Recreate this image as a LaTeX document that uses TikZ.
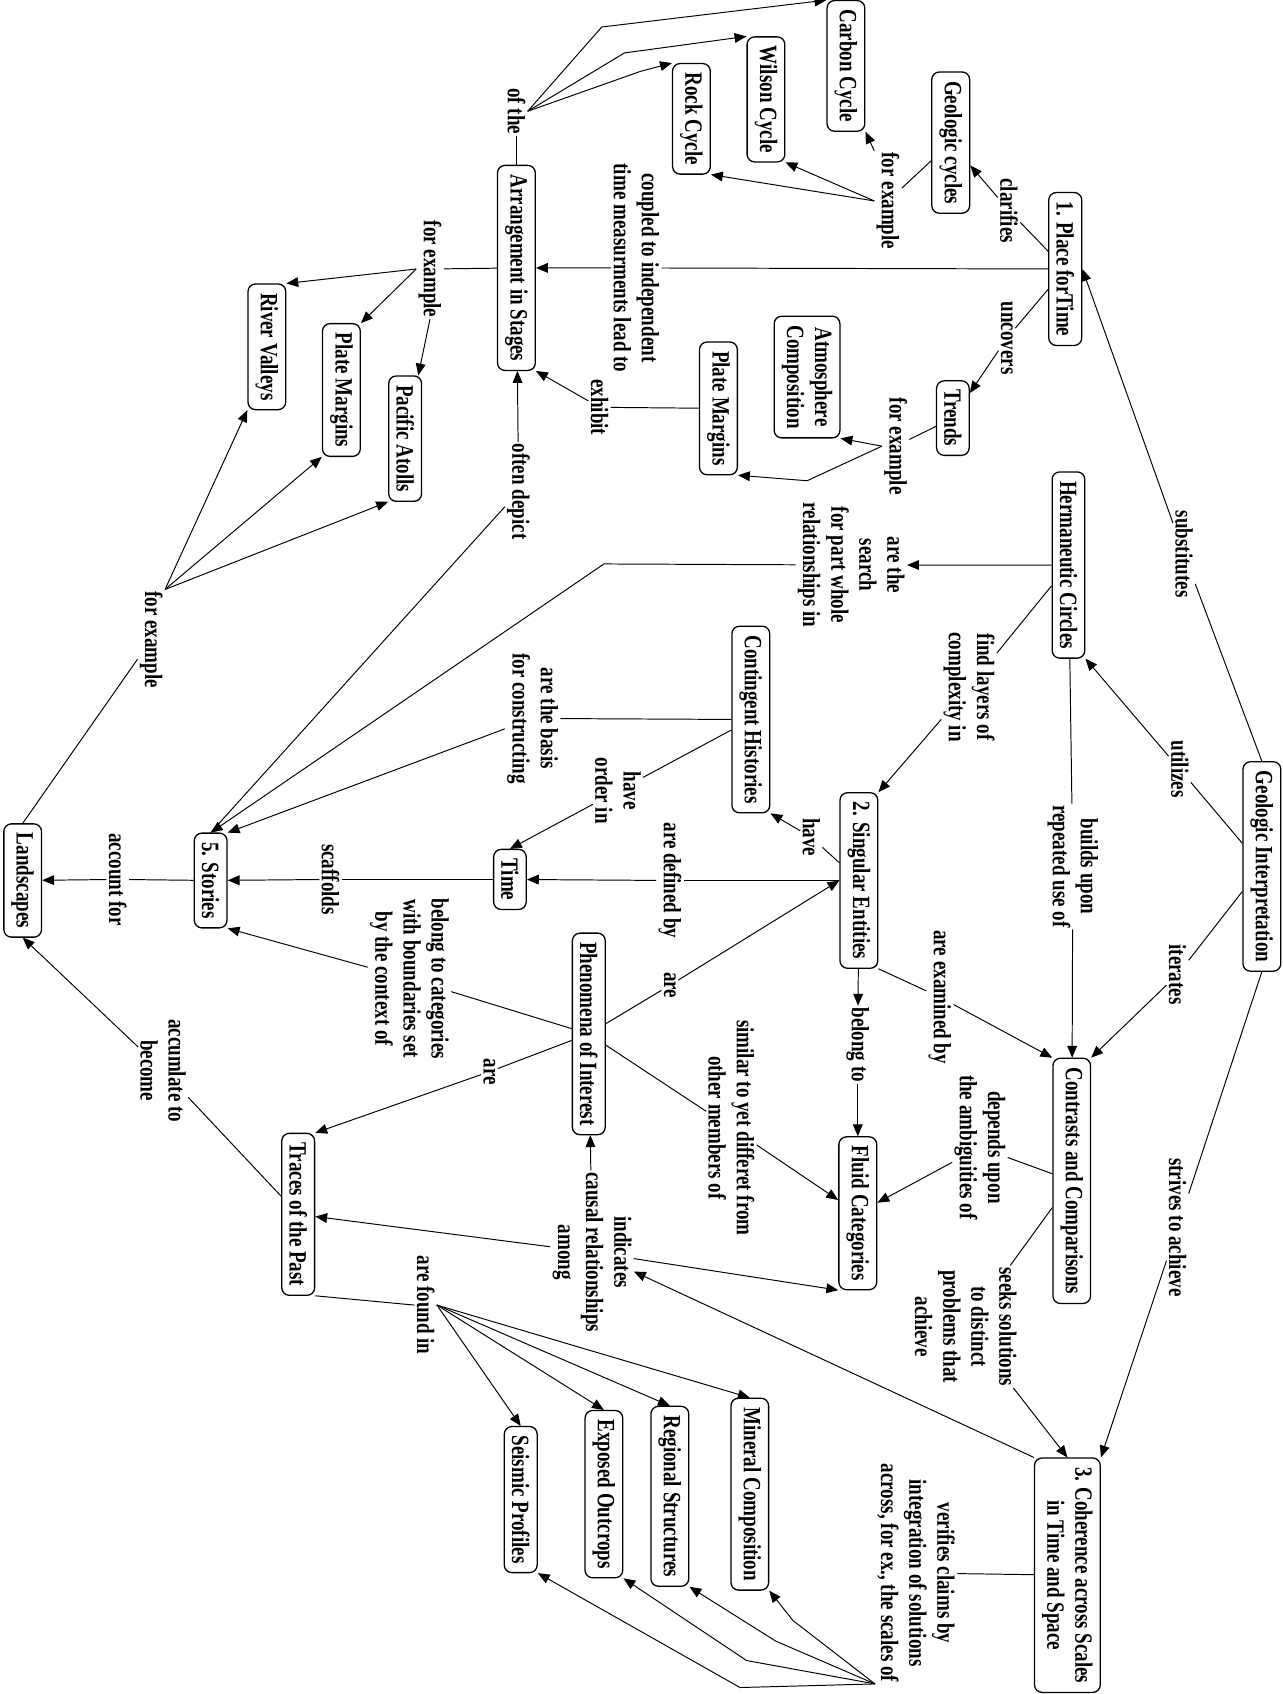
\documentclass[tikz,border=0pt]{standalone}
\usepackage{fontspec}
\setmainfont{Liberation Serif}
\usepackage{tikz}
\usetikzlibrary{arrows.meta}
\tikzset{
  concept/.style ={draw, rounded corners=7pt, line width=1.2pt, rotate=-90, xscale=0.765,
                   inner xsep=11pt, inner ysep=7pt, align=center,
                   font=\fontsize{23}{26}\selectfont\bfseries},
  linkph/.style  ={rotate=-90, xscale=0.765, inner sep=2pt, align=center,
                   font=\fontsize{23}{26}\selectfont\bfseries},
  ln/.style      ={line width=0.9pt},
  arr/.style     ={-{Triangle[length=11pt,width=9pt]}, line width=0.9pt},
}
\begin{document}
\begin{tikzpicture}[x=1pt,y=-1pt]
    \useasboundingbox (0,0) rectangle (1187,1568);
    % concepts
    \node[concept] (geoint) at (1168,802) {Geologic Interpretation};
    \node[concept] (place) at (986,249) {1. Place forTime};
    \node[concept] (cycles) at (880,132) {Geologic cycles};
    \node[concept] (carbon) at (783,61) {Carbon Cycle};
    \node[concept] (wilson) at (709,92) {Wilson Cycle};
    \node[concept] (rock) at (640,110) {Rock Cycle};
    \node[concept] (trends) at (882,387) {Trends};
    \node[concept] (atmos) at (747,349) {Atmosphere\\Composition};
    \node[concept] (margtop) at (665,378) {Plate Margins};
    \node[concept] (stages) at (478,248) {Arrangement in Stages};
    \node[concept] (river) at (247,321) {River Valleys};
    \node[concept] (margleft) at (316,361) {Plate Margins};
    \node[concept] (atolls) at (375,406) {Pacific Atolls};
    \node[concept] (herm) at (989,523) {Hermaneutic Circles};
    \node[concept] (contin) at (695,666) {Contingent Histories};
    \node[concept] (singular) at (795,815) {2. Singular Entities};
    \node[concept] (time) at (472,814) {Time};
    \node[concept] (stories) at (195,815) {5. Stories};
    \node[concept] (land) at (21,815) {Landscapes};
    \node[concept] (phen) at (545,957) {Phenomena of Interest};
    \node[concept] (fluid) at (794,1123) {Fluid Categories};
    \node[concept] (contrast) at (992,1093) {Contrasts and Comparisons};
    \node[concept] (traces) at (276,1124) {Traces of the Past};
    \node[concept] (coher) at (988,1458) {3. Coherence across Scales\\in Time and Space};
    \node[concept] (mineral) at (694,1383) {Mineral Composition};
    \node[concept] (regional) at (620,1385) {Regional Structures};
    \node[concept] (exposed) at (559,1383) {Exposed Outcrops};
    \node[concept] (seismic) at (482,1388) {Seismic Profiles};
    % linking phrases
    \node[linkph] (lclar) at (934,195) {clarifies};
    \node[linkph] (lfexcyc) at (822,186) {for example};
    \node[linkph] (lunc) at (932,313) {uncovers};
    \node[linkph] (lfextr) at (829,413) {for example};
    \node[linkph] (lcoupled) at (589,248) {coupled to independent\\time measurments lead to};
    \node[linkph] (lexhibit) at (555,377) {exhibit};
    \node[linkph] (lofthe) at (478,103) {of the};
    \node[linkph] (lfexst) at (398,249) {for example};
    \node[linkph] (ldepict) at (480,455) {often depict};
    \node[linkph] (lsearch) at (788,523) {are the\\search\\for part whole\\relationships in};
    \node[linkph] (lfind) at (897,636) {find layers of\\complexity in};
    \node[linkph] (lutil) at (1092,712) {utilizes};
    \node[linkph] (lsubst) at (1096,513) {substitutes};
    \node[linkph] (lbuilds) at (993,802) {builds upon\\repeated use of};
    \node[linkph] (liter) at (1090,902) {iterates};
    \node[linkph] (lstrives) at (1090,1136) {strives to achieve};
    \node[linkph] (lseeks) at (894,1228) {seeks solutions\\to distinct\\problems that\\achieve};
    \node[linkph] (ldepends) at (907,1062) {depends upon\\the ambiguities of};
    \node[linkph] (lexam) at (870,923) {are examined by};
    \node[linkph] (lbelong) at (794,967) {belong to};
    \node[linkph] (lhave) at (751,775) {have};
    \node[linkph] (ldefined) at (620,815) {are defined by};
    \node[linkph] (lareent) at (620,912) {are};
    \node[linkph] (lscaff) at (306,814) {scaffolds};
    \node[linkph] (lorder) at (572,732) {have\\order in};
    \node[linkph] (lbasis) at (493,665) {are the basis\\for constructing};
    \node[linkph] (lfexland) at (140,592) {for example};
    \node[linkph] (laccount) at (109,814) {account for};
    \node[linkph] (lbcat) at (379,906) {belong to categories\\with boundaries set\\by the context of};
    \node[linkph] (laretr) at (453,992) {are};
    \node[linkph] (laccum) at (151,991) {accumlate to\\become};
    \node[linkph] (lindic) at (548,1159) {indicates\\causal relationships\\among};
    \node[linkph] (lsimilar) at (677,1044) {similar to yet differet from\\other members of};
    \node[linkph] (lfound) at (394,1208) {are found in};
    \node[linkph] (lverif) at (848,1456) {verifies claims by\\integration of solutions\\across, for ex., the scales of};
    % bend points
    \coordinate (bndmarg) at (747,445);
    \coordinate (bndcarbon) at (557,25);
    \coordinate (bndwilson) at (578,49);
    \coordinate (bndrock) at (593,66);
    \coordinate (bndsearch) at (559,522);
    \coordinate (bndmin) at (734,1500);
    \coordinate (bndreg) at (718,1519);
    \coordinate (bndexp) at (691,1537);
    \coordinate (bndseis) at (685,1562);

    \draw[ln] (place) -- (lclar);
    \draw[arr] (lclar) -- (cycles);
    \draw[ln] (cycles) -- (lfexcyc);
    \draw[arr] (lfexcyc.south west) -- (carbon.north east);
    \draw[arr] (lfexcyc.south) -- (wilson.north east);
    \draw[arr] (lfexcyc.south) -- (rock.north east);
    \draw[ln] (place) -- (lunc);
    \draw[arr] (lunc) -- (trends);
    \draw[ln] (trends) -- (lfextr);
    \draw[arr] (lfextr.south) -- (atmos.north east);
    \draw[arr] (lfextr.south) -- (bndmarg) -- (margtop.north east);
    \draw[ln] (place) -- (lcoupled);
    \draw[arr] (lcoupled) -- (stages);
    \draw[ln] (margtop) -- (lexhibit);
    \draw[arr] (lexhibit) -- (stages.north east);
    \draw[ln] (stages) -- (lofthe);
    \draw[arr] (lofthe.north) -- (bndcarbon) -- (carbon.south west);
    \draw[arr] (lofthe.north) -- (bndwilson) -- (wilson.south west);
    \draw[arr] (lofthe.north) -- (bndrock) -- (rock.south west);
    \draw[ln] (stages) -- (lfexst);
    \draw[arr] (lfexst.south) -- (river.north west);
    \draw[arr] (lfexst.south) -- (margleft.north west);
    \draw[arr] (lfexst.east) -- (atolls);
    \draw[ln] (stories.west) -- (ldepict);
    \draw[arr] (ldepict) -- (stages);
    \draw[arr] (herm) -- (lsearch);
    \draw[arr] (lsearch) -- (bndsearch) -- (stories.west);
    \draw[ln] (herm) -- (lfind);
    \draw[arr] (lfind) -- (singular.north west);
    \draw[ln] (geoint) -- (lutil);
    \draw[arr] (lutil) -- (herm.north east);
    \draw[ln] (geoint.west) -- (lsubst);
    \draw[arr] (lsubst) -- (place.north);
    \draw[ln] (herm) -- (lbuilds);
    \draw[arr] (lbuilds) -- (contrast);
    \draw[ln] (geoint) -- (liter);
    \draw[arr] (liter) -- (contrast.north west);
    \draw[ln] (geoint.east) -- (lstrives);
    \draw[arr] (lstrives) -- (coher.north west);
    \draw[ln] (contrast) -- (lseeks);
    \draw[arr] (lseeks) -- (coher.west);
    \draw[ln] (contrast) -- (ldepends);
    \draw[arr] (ldepends) -- (fluid);
    \draw[ln] (singular.north east) -- (lexam);
    \draw[arr] (lexam) -- (contrast.south west);
    \draw[arr] (singular) -- (lbelong);
    \draw[arr] (lbelong) -- (fluid);
    \draw[ln] (singular) -- (lhave);
    \draw[arr] (lhave) -- (contin.north east);
    \draw[ln] (singular) -- (ldefined);
    \draw[arr] (ldefined) -- (time);
    \draw[ln] (phen) -- (lareent);
    \draw[arr] (lareent) -- (singular.south);
    \draw[ln] (time) -- (lscaff);
    \draw[arr] (lscaff) -- (stories);
    \draw[ln] (contin) -- (lorder);
    \draw[arr] (lorder) -- (time.west);
    \draw[ln] (contin) -- (lbasis);
    \draw[arr] (lbasis) -- (stories.north west);
    \draw[ln] (land.west) -- (lfexland);
    \draw[arr] (lfexland.north west) -- (river.south east);
    \draw[arr] (lfexland.north west) -- (margleft.south east);
    \draw[arr] (lfexland.north west) -- (atolls.south east);
    \draw[ln] (stories) -- (laccount);
    \draw[arr] (laccount) -- (land);
    \draw[ln] (phen) -- (lbcat);
    \draw[arr] (lbcat) -- (stories.north east);
    \draw[ln] (phen) -- (laretr);
    \draw[arr] (laretr) -- (traces.north west);
    \draw[ln] (traces) -- (laccum);
    \draw[arr] (laccum) -- (land.east);
    \draw[arr] (coher.south west) -- (lindic);
    \draw[arr] (lindic) -- (phen);
    \draw[arr] (lindic) -- (traces);
    \draw[arr] (lindic) -- (fluid.south east);
    \draw[ln] (phen) -- (lsimilar);
    \draw[arr] (lsimilar) -- (fluid);
    \draw[ln] (traces.north east) -- (lfound.south);
    \draw[arr] (lfound.north) -- (seismic.west);
    \draw[arr] (lfound.north) -- (exposed.west);
    \draw[arr] (lfound.north) -- (regional.west);
    \draw[arr] (lfound.north) -- (mineral.west);
    \draw[ln] (coher) -- (lverif);
    \draw[arr] (lverif.south east) -- (bndmin) -- (mineral.north east);
    \draw[arr] (lverif.south east) -- (bndreg) -- (regional.north east);
    \draw[arr] (lverif.south east) -- (bndexp) -- (exposed.north east);
    \draw[arr] (lverif.south east) -- (bndseis) -- (seismic.north east);
  \end{tikzpicture}
\end{document}
